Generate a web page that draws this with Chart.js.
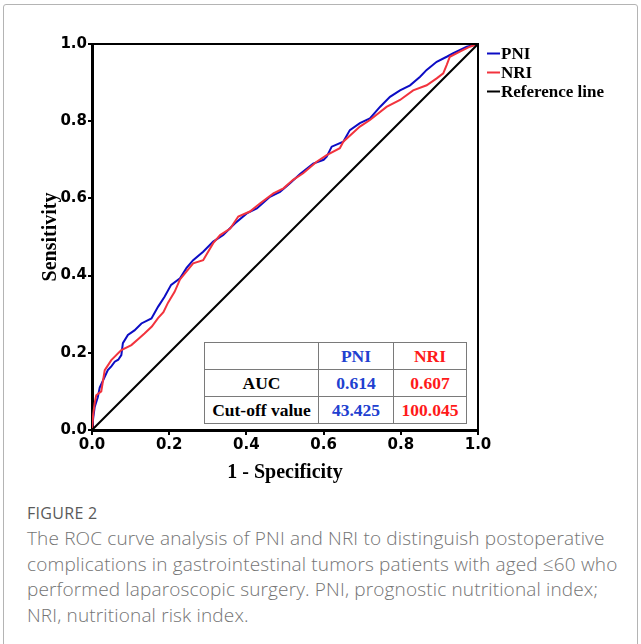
<!DOCTYPE html>
<html>
<head>
<meta charset="utf-8">
<script src="https://cdn.jsdelivr.net/npm/chart.js@4.4.0/dist/chart.umd.min.js"></script>
<style>
  body { margin: 0; background: #fff; width: 641px; height: 644px; overflow: hidden; position: relative; }
  #frame { position: absolute; left: 3px; top: 4px; width: 633px; height: 700px; border: 1px solid #b4b4b4; border-radius: 3px; }
  #wrap { position: absolute; left: 0; top: 0; width: 641px; height: 490px; }
  #tabla { position: absolute; left: 204px; top: 342px; border-collapse: collapse; background: #fff;
           font-family: "Liberation Serif", serif; font-weight: bold; font-size: 17.5px; }
  #tabla td { border: 1.5px solid #7a7a7a; text-align: center; padding: 0; height: 26px; }
  #caption { position: absolute; left: 27px; top: 500px; font-family: "Open Sans", sans-serif; color: #747474; }
  #caption .fig { font-size: 16px; color: #5a5a5a; letter-spacing: 0.3px; line-height: 26px; }
  #caption .txt { font-size: 19px; font-weight: 300; line-height: 25.7px; letter-spacing: 0.15px; }
</style>
</head>
<body>
<div id="frame"></div>
<div id="wrap"><canvas id="myChart" width="641" height="490"></canvas></div>
<table id="tabla"></table>
<div id="caption">
  <div class="fig">FIGURE 2</div>
  <div class="txt">The ROC curve analysis of PNI and NRI to distinguish postoperative<br>complications in gastrointestinal tumors patients with aged ≤60 who<br>performed laparoscopic surgery. PNI, prognostic nutritional index;<br>NRI, nutritional risk index.</div>
</div>
<script>
// datos (1 - especificidad, sensibilidad)
const fprPNI = [0, 0.003, 0.007, 0.015, 0.02, 0.033, 0.041, 0.05, 0.059, 0.068, 0.076, 0.08, 0.093, 0.11, 0.128, 0.154, 0.171, 0.188, 0.205, 0.228, 0.245, 0.262, 0.288, 0.314, 0.34, 0.37, 0.401, 0.427, 0.461, 0.487, 0.513, 0.539, 0.573, 0.6, 0.608, 0.621, 0.651, 0.668, 0.694, 0.72, 0.746, 0.772, 0.798, 0.824, 0.85, 0.867, 0.893, 0.919, 0.936, 0.971, 1];
const tprPNI = [0, 0.03, 0.06, 0.085, 0.11, 0.138, 0.155, 0.165, 0.177, 0.182, 0.194, 0.225, 0.246, 0.258, 0.276, 0.289, 0.319, 0.345, 0.376, 0.393, 0.42, 0.44, 0.462, 0.488, 0.505, 0.535, 0.561, 0.574, 0.604, 0.617, 0.639, 0.663, 0.69, 0.7, 0.708, 0.734, 0.747, 0.777, 0.795, 0.807, 0.837, 0.863, 0.88, 0.893, 0.915, 0.933, 0.954, 0.967, 0.976, 0.993, 1];

const fprNRI = [0, 0.003, 0.007, 0.011, 0.024, 0.033, 0.05, 0.076, 0.102, 0.12, 0.136, 0.155, 0.171, 0.185, 0.197, 0.214, 0.228, 0.262, 0.288, 0.314, 0.332, 0.358, 0.379, 0.409, 0.435, 0.47, 0.496, 0.521, 0.547, 0.582, 0.608, 0.642, 0.651, 0.694, 0.72, 0.763, 0.798, 0.832, 0.867, 0.893, 0.91, 0.919, 0.927, 0.953, 0.979, 1];
const tprNRI = [0, 0.04, 0.07, 0.09, 0.1, 0.155, 0.181, 0.207, 0.22, 0.236, 0.25, 0.268, 0.29, 0.305, 0.33, 0.358, 0.39, 0.432, 0.44, 0.484, 0.505, 0.522, 0.553, 0.566, 0.587, 0.613, 0.626, 0.648, 0.665, 0.695, 0.712, 0.73, 0.747, 0.786, 0.803, 0.837, 0.855, 0.88, 0.893, 0.911, 0.924, 0.946, 0.967, 0.98, 0.993, 1];

const refX = [0, 1];
const refY = [0, 1];

const etiquetas = ["PNI", "NRI", "Reference line"];
const colores = ["#0c0cc4", "#f2333d", "#000000"];
const valoresTicks = [0, 0.2, 0.4, 0.6, 0.8, 1.0];

// tabla AUC
const filasTabla = ["AUC", "Cut-off value"];
const aucValores = ["0.614", "0.607"];
const corteValores = ["43.425", "100.045"];
const coloresTabla = ["#2140d0", "#ff1a1a"];

const aPuntos = (xs, ys) => xs.map((x, i) => ({ x: x, y: ys[i] }));

// leyenda propia (lineas cortas a la derecha)
const leyendaPlugin = {
  id: "leyenda",
  afterDraw(chart) {
    const c = chart.ctx;
    const area = chart.chartArea;
    c.save();
    // marco superior y derecho
    c.strokeStyle = "#000";
    c.lineWidth = 2;
    c.beginPath();
    c.moveTo(area.left, area.top);
    c.lineTo(area.right, area.top);
    c.lineTo(area.right, area.bottom);
    c.stroke();
    c.font = "bold 17px 'Liberation Serif'";
    c.textBaseline = "middle";
    chart.data.datasets.forEach((ds, i) => {
      const y = area.top + 9.5 + i * 19;
      c.strokeStyle = ds.borderColor;
      c.lineWidth = 2;
      c.beginPath();
      c.moveTo(area.right + 9, y);
      c.lineTo(area.right + 22, y);
      c.stroke();
      c.fillStyle = "#000";
      c.fillText(ds.label, area.right + 23, y + 1);
    });
    c.restore();
  }
};

const ctx = document.getElementById("myChart").getContext("2d");
const myChart = new Chart(ctx, {
  type: "line",
  data: {
    datasets: [
      { label: etiquetas[0], data: aPuntos(fprPNI, tprPNI), borderColor: colores[0], borderWidth: 2, pointRadius: 0, tension: 0, order: 2 },
      { label: etiquetas[1], data: aPuntos(fprNRI, tprNRI), borderColor: colores[1], borderWidth: 2, pointRadius: 0, tension: 0, order: 1 },
      { label: etiquetas[2], data: aPuntos(refX, refY), borderColor: colores[2], borderWidth: 2, pointRadius: 0, tension: 0, order: 0 }
    ]
  },
  options: {
    responsive: false,
    animation: false,
    layout: { padding: { left: 0, top: 44, right: 163, bottom: 0 } },
    plugins: { legend: { display: false }, tooltip: { enabled: false } },
    scales: {
      x: {
        type: "linear",
        min: 0, max: 1,
        afterFit: (axis) => { axis.height = 60; },
        afterBuildTicks: (axis) => { axis.ticks = valoresTicks.map(v => ({ value: v })); },
        border: { display: true, color: "#000", width: 3 },
        grid: { drawOnChartArea: false, drawTicks: true, tickLength: 5, color: "#000", lineWidth: 2 },
        ticks: { color: "#000", padding: 1, maxRotation: 0, font: { family: "DejaVu Sans", weight: "bold", size: 15 }, callback: (v) => v.toFixed(1) },
        title: { display: true, text: "1 - Specificity", color: "#000", padding: { top: 0, bottom: 5 }, font: { family: "Liberation Serif", weight: "bold", size: 20 } }
      },
      y: {
        type: "linear",
        min: 0, max: 1,
        afterFit: (axis) => { axis.width = 92; },
        afterBuildTicks: (axis) => { axis.ticks = valoresTicks.map(v => ({ value: v })); },
        border: { display: true, color: "#000", width: 3 },
        grid: { drawOnChartArea: false, drawTicks: true, tickLength: 4, color: "#000", lineWidth: 2 },
        ticks: { color: "#000", padding: 1, font: { family: "DejaVu Sans", weight: "bold", size: 15 }, callback: (v) => v.toFixed(1) },
        title: { display: true, text: "Sensitivity", color: "#000", padding: { top: 39, bottom: 0 }, font: { family: "Liberation Serif", weight: "bold", size: 20 } }
      }
    }
  },
  plugins: [leyendaPlugin]
});

// construir la tabla desde los arreglos
const tabla = document.getElementById("tabla");
let html = "<tr><td style='width:113px'></td>";
etiquetas.slice(0, 2).forEach((e, i) => {
  html += "<td style='width:" + (i === 0 ? 74 : 72) + "px;color:" + coloresTabla[i] + "'>" + e + "</td>";
});
html += "</tr>";
[aucValores, corteValores].forEach((fila, r) => {
  html += "<tr><td>" + filasTabla[r] + "</td>";
  fila.forEach((v, i) => { html += "<td style='color:" + coloresTabla[i] + "'>" + v + "</td>"; });
  html += "</tr>";
});
tabla.innerHTML = html;
</script>
</body>
</html>
